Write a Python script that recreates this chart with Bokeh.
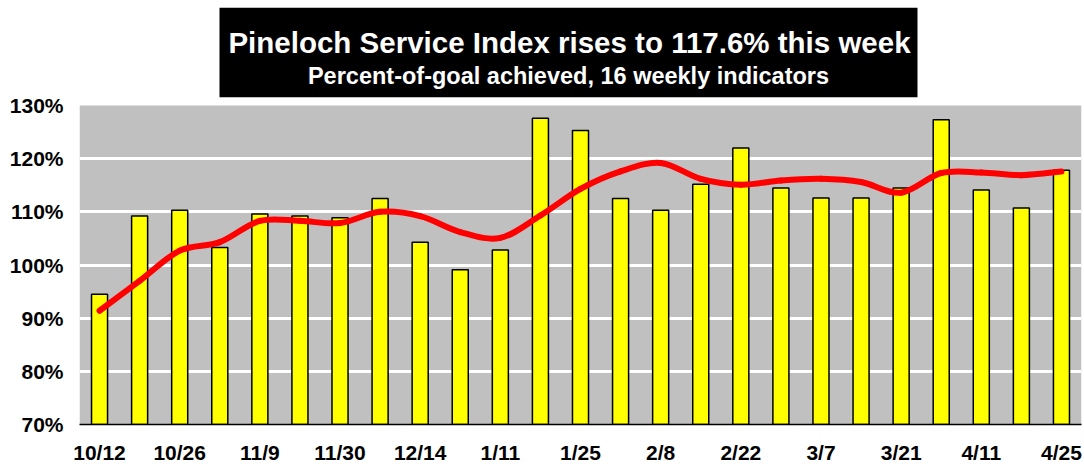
from bokeh.plotting import figure
from bokeh.models import Range1d, FixedTicker, ColumnDataSource
from bokeh.core.properties import value
from bokeh.embed import file_html
from bokeh.resources import INLINE

# ---------------- data ----------------
title_text = "Pineloch Service Index rises to 117.6% this week"
subtitle_text = "Percent-of-goal achieved, 16 weekly indicators"

weeks = ["10/12", "10/19", "10/26", "11/2", "11/9", "11/16", "11/30", "12/7",
         "12/14", "1/4", "1/11", "1/18", "1/25", "2/1", "2/8", "2/15",
         "2/22", "3/1", "3/7", "3/14", "3/21", "4/4", "4/11", "4/18", "4/25"]
tick_labels = ["10/12", "10/26", "11/9", "11/30", "12/14", "1/11", "1/25",
               "2/8", "2/22", "3/7", "3/21", "4/11", "4/25"]
weekly_pct = [94.5, 109.2, 110.3, 103.3, 109.6, 109.2, 108.9, 112.5, 104.3,
              99.1, 102.8, 127.6, 125.3, 112.5, 110.3, 115.2, 122.0, 114.5,
              112.6, 112.6, 114.5, 127.3, 114.1, 110.7, 117.8]
trend_pct = [91.4, 97.0, 102.7, 104.3, 108.3, 108.3, 107.9, 110.0, 109.2,
             106.2, 105.1, 109.3, 114.3, 117.6, 119.2, 116.2, 115.1, 115.9,
             116.2, 115.6, 113.6, 117.3, 117.4, 116.9, 117.6]
y_ticks = [70, 80, 90, 100, 110, 120, 130]
y_tick_labels = ["70%", "80%", "90%", "100%", "110%", "120%", "130%"]
grid_vals = [80, 90, 100, 110, 120]

FONT = "Liberation Sans"

# ---------------- geometry (pixels) ----------------
W, H = 1084, 466
LEFT, RIGHT, BOTTOM = 79, 3, 42          # borders around the frame
FRAME_W = W - LEFT - RIGHT
FRAME_H = H - BOTTOM
Y_MIN, Y_MAX_VAL = 70, 130
PLOT_TOP_PX = 105                         # pixel (from frame top) of the 130% line
PX_PER_Y = (FRAME_H - PLOT_TOP_PX) / (Y_MAX_VAL - Y_MIN)
Y_TOP = Y_MIN + FRAME_H / PX_PER_Y
n = len(weekly_pct)
X_LO, X_HI = -0.5, n - 0.5
PX_PER_X = FRAME_W / (X_HI - X_LO)


def dx(px):   # page pixel (from left) -> data x
    return X_LO + (px - LEFT) / PX_PER_X


def dy(px):   # page pixel (from top) -> data y
    return Y_TOP - px / PX_PER_Y


p = figure(width=W, height=H, output_backend="svg", toolbar_location=None,
           x_range=Range1d(X_LO, X_HI), y_range=Range1d(Y_MIN, Y_TOP),
           min_border_left=LEFT, min_border_right=RIGHT, min_border_top=0,
           min_border_bottom=BOTTOM)
p.background_fill_color = "white"
p.border_fill_color = "white"
p.outline_line_color = None

# grey plotting band 70%..130%
p.quad(left=[X_LO], right=[X_HI], bottom=[Y_MIN], top=[Y_MAX_VAL],
       fill_color="#C0C0C0", line_color=None, level="image")

p.xgrid.visible = False
p.ygrid.ticker = FixedTicker(ticks=grid_vals)
p.ygrid.grid_line_color = "white"
p.ygrid.grid_line_width = 3

xs = list(range(n))
src = ColumnDataSource(dict(x=xs, week=weeks, pct=weekly_pct, trend=trend_pct))
p.vbar(x="x", top="pct", bottom=Y_MIN, width=0.4, source=src,
       fill_color="#FFFF00", line_color="black", line_width=1.5)

# smooth trend line (Catmull-Rom style bezier through the trend values)
x0, y0, x1, y1, cx0, cy0, cx1, cy1 = [], [], [], [], [], [], [], []
for i in range(n - 1):
    xa, ya = xs[i], trend_pct[i]
    xb, yb = xs[i + 1], trend_pct[i + 1]
    xp, yp = (xs[i - 1], trend_pct[i - 1]) if i > 0 else (xa, ya)
    xn, yn = (xs[i + 2], trend_pct[i + 2]) if i + 2 < n else (xb, yb)
    x0.append(xa); y0.append(ya); x1.append(xb); y1.append(yb)
    cx0.append(xa + (xb - xp) / 6.0); cy0.append(ya + (yb - yp) / 6.0)
    cx1.append(xb - (xn - xa) / 6.0); cy1.append(yb - (yn - ya) / 6.0)
p.bezier(x0=x0, y0=y0, x1=x1, y1=y1, cx0=cx0, cy0=cy0, cx1=cx1, cy1=cy1,
         line_color="#FF0000", line_width=6, line_cap="round")

# title box
p.quad(left=[dx(219)], right=[dx(917)], bottom=[dy(96.7)], top=[dy(7.3)],
       fill_color="black", line_color=None)
p.text(x=[dx(569)], y=[dy(41.7)], text=[title_text], text_font=value(FONT),
       text_font_style="bold", text_font_size="29.5px", text_color="white",
       text_align="center", text_baseline="alphabetic")
p.text(x=[dx(568)], y=[dy(75)], text=[subtitle_text], text_font=value(FONT),
       text_font_style="bold", text_font_size="23.5px", text_color="white",
       text_align="center", text_baseline="alphabetic")

# axes
tick_pos = [weeks.index(lbl) for lbl in tick_labels]
for ax in (p.xaxis[0], p.yaxis[0]):
    ax.major_tick_out = 0
    ax.major_tick_in = 0
    ax.minor_tick_out = 0
    ax.minor_tick_in = 0
    ax.major_tick_line_color = None
    ax.minor_tick_line_color = None
    ax.major_label_text_font = FONT
    ax.major_label_text_font_style = "bold"
    ax.major_label_text_font_size = "21px"
    ax.major_label_text_color = "black"
    ax.axis_label_standoff = 0

p.xaxis.ticker = FixedTicker(ticks=tick_pos)
p.xaxis.major_label_overrides = {pos: lbl for pos, lbl in zip(tick_pos, tick_labels)}
p.xaxis.axis_line_color = "black"
p.xaxis.axis_line_width = 1.5
p.xaxis.major_label_standoff = 16

p.yaxis.ticker = FixedTicker(ticks=y_ticks)
p.yaxis.major_label_overrides = {v: s for v, s in zip(y_ticks, y_tick_labels)}
p.yaxis.axis_line_color = None
p.yaxis.major_label_standoff = 16

open("out.html", "w").write(file_html(p, INLINE))
